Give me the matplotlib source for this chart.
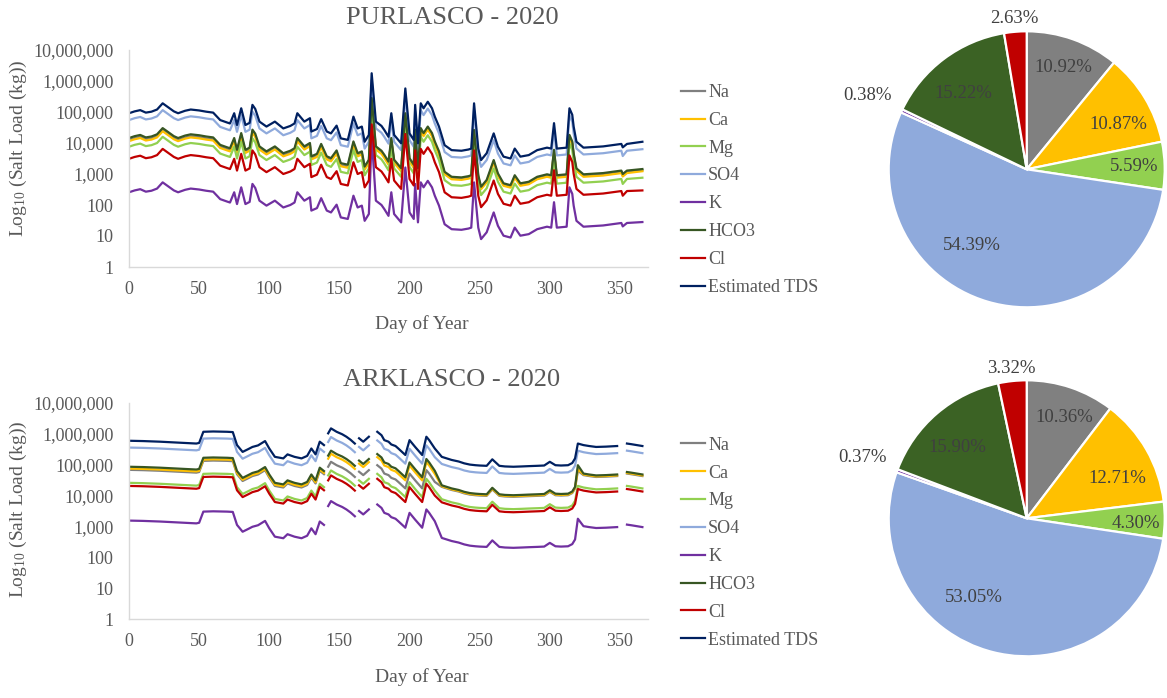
import numpy as np
import matplotlib
matplotlib.use('Agg')
import matplotlib.pyplot as plt
from matplotlib.ticker import FixedLocator, FuncFormatter, NullLocator

plt.rcParams['font.family'] = ['Liberation Serif', 'DejaVu Serif']
plt.rcParams['mathtext.fontset'] = 'custom'
plt.rcParams['mathtext.rm'] = 'Liberation Serif'
plt.rcParams['mathtext.it'] = 'Liberation Serif:italic'

# ---------------- data ----------------
series_names = ['Na', 'Ca', 'Mg', 'SO4', 'K', 'HCO3', 'Cl', 'Estimated TDS']
y_ticks = [1, 10, 100, 1000, 10000, 100000, 1000000, 10000000]
x_ticks = [0, 50, 100, 150, 200, 250, 300, 350]

# PURLASCO 2020 -- daily salt loads, read as log10(kg)
purl_days = [0, 4, 8, 12, 16, 20, 24, 28, 32, 35, 40, 44, 50, 55, 60, 65, 70, 72, 75, 77,
             80, 83, 86, 88, 90, 93, 98, 104, 110, 115, 118, 120, 125, 129, 130, 134, 137, 141, 144, 148,
             151, 156, 160, 163, 166, 168, 171, 173, 176, 180, 182, 185, 187, 189, 194, 197, 200, 203, 204, 206,
             208, 210, 213, 216, 218, 221, 225, 230, 237, 242, 244, 246, 249, 251, 255, 260, 263, 267, 272, 275,
             279, 285, 291, 298, 301, 303, 305, 312, 314, 316, 317, 319, 324, 338, 351, 352, 355, 366]
purl_tds = [4.96, 5.02, 5.06, 4.98, 5.01, 5.08, 5.28, 5.15, 5.02, 4.96, 5.04, 5.08, 5.05, 5.01, 4.98, 4.74, 4.66, 4.63, 4.96, 4.58,
            5.12, 4.58, 4.65, 5.23, 5.10, 4.69, 4.53, 4.69, 4.47, 4.55, 4.63, 4.96, 4.69, 4.80, 4.37, 4.45, 4.77, 4.37, 4.31, 4.56,
            4.15, 4.10, 4.85, 4.47, 4.53, 4.04, 4.26, 6.25, 4.69, 4.55, 4.42, 4.20, 4.96, 4.26, 3.99, 5.76, 4.31, 4.10, 5.23, 3.99,
            5.28, 5.12, 5.33, 5.12, 4.85, 4.53, 3.93, 3.77, 3.75, 3.79, 3.82, 5.28, 3.82, 3.45, 3.67, 4.31, 3.88, 3.56, 3.50, 3.82,
            3.56, 3.61, 3.77, 3.85, 3.82, 4.64, 3.82, 3.85, 5.12, 4.91, 4.53, 4.04, 3.85, 3.89, 3.97, 3.86, 3.97, 4.04]
purl_so4 = [4.74, 4.80, 4.84, 4.76, 4.79, 4.86, 5.06, 4.93, 4.80, 4.74, 4.82, 4.86, 4.83, 4.79, 4.76, 4.52, 4.44, 4.41, 4.74, 4.36,
            4.90, 4.36, 4.43, 5.01, 4.88, 4.47, 4.31, 4.47, 4.25, 4.33, 4.41, 4.74, 4.47, 4.58, 4.15, 4.23, 4.55, 4.15, 4.09, 4.34,
            3.93, 3.88, 4.63, 4.25, 4.31, 3.82, 4.04, 6.03, 4.47, 4.33, 4.20, 3.98, 4.74, 4.04, 3.77, 5.54, 4.09, 3.88, 5.01, 3.77,
            5.06, 4.90, 5.11, 4.90, 4.63, 4.31, 3.71, 3.55, 3.53, 3.57, 3.60, 5.06, 3.60, 3.23, 3.45, 4.09, 3.66, 3.34, 3.28, 3.60,
            3.34, 3.39, 3.55, 3.63, 3.60, 4.42, 3.60, 3.63, 4.90, 4.69, 4.31, 3.82, 3.63, 3.67, 3.75, 3.58, 3.75, 3.80]
purl_hco3 = [4.16, 4.22, 4.26, 4.18, 4.21, 4.28, 4.48, 4.35, 4.22, 4.16, 4.24, 4.28, 4.25, 4.21, 4.18, 3.94, 3.86, 3.83, 4.16, 3.78,
             4.32, 3.78, 3.85, 4.43, 4.30, 3.89, 3.73, 3.89, 3.67, 3.75, 3.83, 4.16, 3.89, 4.00, 3.57, 3.65, 3.97, 3.57, 3.51, 3.76,
             3.35, 3.30, 4.05, 3.67, 3.73, 3.24, 3.46, 5.45, 3.89, 3.75, 3.62, 3.40, 4.16, 3.46, 3.19, 4.96, 3.51, 3.30, 4.43, 3.19,
             4.48, 4.32, 4.53, 4.32, 4.05, 3.73, 3.07, 2.91, 2.89, 2.93, 2.96, 4.42, 2.96, 2.59, 2.81, 3.45, 3.02, 2.70, 2.64, 2.96,
             2.70, 2.75, 2.91, 2.99, 2.96, 3.78, 2.96, 2.99, 4.26, 4.05, 3.67, 3.18, 2.99, 3.03, 3.11, 3.00, 3.11, 3.16]
purl_na = [4.10, 4.16, 4.20, 4.12, 4.15, 4.22, 4.42, 4.29, 4.16, 4.10, 4.18, 4.22, 4.19, 4.15, 4.12, 3.88, 3.80, 3.77, 4.10, 3.72,
           4.26, 3.72, 3.79, 4.37, 4.24, 3.83, 3.67, 3.83, 3.61, 3.69, 3.77, 4.10, 3.83, 3.94, 3.51, 3.59, 3.91, 3.51, 3.45, 3.70,
           3.29, 3.24, 3.99, 3.61, 3.67, 3.18, 3.40, 5.39, 3.83, 3.69, 3.56, 3.34, 4.10, 3.40, 3.13, 4.90, 3.45, 3.24, 4.37, 3.13,
           4.42, 4.26, 4.47, 4.26, 3.99, 3.67, 3.02, 2.86, 2.84, 2.88, 2.91, 4.37, 2.91, 2.54, 2.76, 3.40, 2.97, 2.65, 2.59, 2.91,
           2.65, 2.70, 2.86, 2.94, 2.91, 3.73, 2.91, 2.94, 4.21, 4.00, 3.62, 3.13, 2.94, 2.98, 3.06, 2.95, 3.06, 3.12]
purl_ca = [4.06, 4.12, 4.16, 4.08, 4.11, 4.18, 4.38, 4.25, 4.12, 4.06, 4.14, 4.18, 4.15, 4.11, 4.08, 3.84, 3.76, 3.73, 4.06, 3.68,
           4.22, 3.68, 3.75, 4.33, 4.20, 3.79, 3.63, 3.79, 3.57, 3.65, 3.73, 4.06, 3.79, 3.90, 3.47, 3.55, 3.87, 3.47, 3.41, 3.66,
           3.25, 3.20, 3.95, 3.57, 3.63, 3.14, 3.36, 5.35, 3.79, 3.65, 3.52, 3.30, 4.06, 3.36, 3.09, 4.86, 3.41, 3.20, 4.33, 3.09,
           4.38, 4.22, 4.43, 4.22, 3.95, 3.63, 2.99, 2.83, 2.81, 2.85, 2.88, 4.34, 2.88, 2.51, 2.73, 3.37, 2.94, 2.62, 2.56, 2.88,
           2.62, 2.67, 2.83, 2.91, 2.88, 3.70, 2.88, 2.91, 4.18, 3.97, 3.59, 3.10, 2.91, 2.95, 3.03, 2.92, 3.03, 3.09]
purl_mg = [3.88, 3.94, 3.98, 3.90, 3.93, 4.00, 4.20, 4.07, 3.94, 3.88, 3.96, 4.00, 3.97, 3.93, 3.90, 3.66, 3.58, 3.55, 3.88, 3.50,
           4.04, 3.50, 3.57, 4.15, 4.02, 3.61, 3.45, 3.61, 3.39, 3.47, 3.55, 3.88, 3.61, 3.72, 3.29, 3.37, 3.69, 3.29, 3.23, 3.48,
           3.07, 3.02, 3.77, 3.39, 3.45, 2.96, 3.18, 5.17, 3.61, 3.47, 3.34, 3.12, 3.88, 3.18, 2.91, 4.68, 3.23, 3.02, 4.15, 2.91,
           4.20, 4.04, 4.25, 4.04, 3.77, 3.45, 2.80, 2.64, 2.62, 2.66, 2.69, 4.15, 2.69, 2.32, 2.54, 3.18, 2.75, 2.43, 2.37, 2.69,
           2.43, 2.48, 2.64, 2.72, 2.69, 3.51, 2.69, 2.72, 3.99, 3.78, 3.40, 2.91, 2.72, 2.76, 2.84, 2.68, 2.84, 2.88]
purl_cl = [3.49, 3.55, 3.59, 3.51, 3.54, 3.61, 3.81, 3.68, 3.55, 3.49, 3.57, 3.61, 3.58, 3.54, 3.51, 3.27, 3.19, 3.16, 3.49, 3.11,
           3.65, 3.11, 3.18, 3.76, 3.63, 3.22, 3.06, 3.22, 3.00, 3.08, 3.16, 3.49, 3.22, 3.33, 2.90, 2.98, 3.30, 2.90, 2.84, 3.09,
           2.68, 2.63, 3.38, 3.00, 3.06, 2.57, 2.79, 4.60, 3.22, 3.08, 2.95, 2.73, 3.49, 2.79, 2.52, 4.29, 2.84, 2.63, 3.76, 2.52,
           3.81, 3.65, 3.86, 3.65, 3.38, 3.06, 2.41, 2.25, 2.23, 2.27, 2.30, 3.76, 2.30, 1.93, 2.15, 2.79, 2.36, 2.04, 1.98, 2.30,
           2.04, 2.09, 2.25, 2.33, 2.30, 3.12, 2.30, 2.33, 3.60, 3.39, 3.01, 2.52, 2.33, 2.37, 2.45, 2.30, 2.45, 2.47]
purl_k = [2.41, 2.47, 2.51, 2.43, 2.46, 2.53, 2.73, 2.60, 2.47, 2.41, 2.49, 2.53, 2.50, 2.46, 2.43, 2.19, 2.11, 2.08, 2.41, 2.03,
          2.57, 2.03, 2.10, 2.68, 2.55, 2.14, 1.98, 2.14, 1.92, 2.00, 2.08, 2.41, 2.14, 2.25, 1.82, 1.90, 2.22, 1.82, 1.76, 2.01,
          1.60, 1.55, 2.30, 1.92, 1.98, 1.49, 1.71, 4.20, 2.14, 2.00, 1.87, 1.65, 2.41, 1.71, 1.44, 3.21, 1.76, 1.55, 2.68, 1.44,
          2.73, 2.57, 2.78, 2.57, 2.30, 1.98, 1.38, 1.22, 1.20, 1.24, 1.27, 2.73, 1.27, 0.90, 1.12, 1.76, 1.33, 1.01, 0.95, 1.27,
          1.01, 1.06, 1.22, 1.30, 1.27, 2.09, 1.27, 1.30, 2.57, 2.36, 1.98, 1.49, 1.30, 1.34, 1.42, 1.31, 1.42, 1.45]

# ARKLASCO 2020 -- daily salt loads, read as log10(kg); None = no data
ark_days = [0, 10, 22, 35, 48, 50, 53, 60, 70, 74, 77, 81, 85, 88, 92, 97, 100, 104, 110, 113,
            118, 123, 127, 130, 133, 136, 139, 140, 142, 144, 148, 152, 155, 158, 161, 162, 164, 167, 171, 174,
            177, 180, 182, 185, 187, 190, 192, 197, 200, 204, 209, 212, 214, 218, 223, 230, 235, 239, 243, 247,
            250, 255, 259, 264, 268, 274, 280, 285, 291, 296, 300, 304, 308, 313, 316, 318, 320, 324, 328, 333,
            340, 348, 351, 355, 358, 362, 366]
ark_tds = [5.77, 5.76, 5.74, 5.71, 5.68, 5.70, 6.06, 6.07, 6.06, 6.05, 5.63, 5.41, 5.50, 5.57, 5.62, 5.76, 5.52, 5.25, 5.20, 5.33,
           5.25, 5.20, 5.28, 5.52, 5.33, 5.74, 5.63, None, 6.01, 6.17, 6.06, 5.98, 5.90, 5.80, 5.68, None, 5.85, 5.74, 5.90, None,
           6.06, 5.95, 5.79, 5.74, 5.65, 5.60, 5.52, 5.31, 5.79, 5.57, 5.31, 5.90, 5.79, 5.52, 5.25, 5.15, 5.10, 5.04, 5.00, 4.98,
           4.97, 4.96, 5.17, 4.96, 4.94, 4.93, 4.94, 4.95, 4.96, 4.97, 5.09, 4.98, 4.97, 4.98, 5.05, 5.20, 5.68, 5.63, 5.60, 5.57,
           5.58, 5.60, None, 5.68, 5.66, 5.63, 5.60]
ark_so4 = [5.55, 5.54, 5.52, 5.49, 5.46, 5.48, 5.84, 5.85, 5.84, 5.83, 5.41, 5.19, 5.28, 5.35, 5.40, 5.54, 5.30, 5.03, 4.98, 5.11,
           5.03, 4.98, 5.06, 5.30, 5.11, 5.52, 5.41, None, 5.73, 5.89, 5.78, 5.70, 5.62, 5.52, 5.40, None, 5.57, 5.46, 5.62, None,
           5.78, 5.67, 5.51, 5.46, 5.37, 5.32, 5.24, 5.03, 5.51, 5.29, 5.03, 5.62, 5.51, 5.24, 5.02, 4.92, 4.87, 4.81, 4.77, 4.75,
           4.74, 4.73, 4.94, 4.73, 4.71, 4.70, 4.71, 4.72, 4.73, 4.74, 4.86, 4.75, 4.74, 4.75, 4.82, 4.97, 5.45, 5.40, 5.37, 5.34,
           5.35, 5.37, None, 5.45, 5.43, 5.40, 5.37]
ark_hco3 = [4.93, 4.92, 4.90, 4.87, 4.84, 4.86, 5.22, 5.23, 5.22, 5.21, 4.79, 4.57, 4.66, 4.73, 4.78, 4.92, 4.68, 4.41, 4.36, 4.49,
            4.41, 4.36, 4.44, 4.68, 4.49, 4.90, 4.79, None, 5.29, 5.45, 5.34, 5.26, 5.18, 5.08, 4.96, None, 5.13, 5.02, 5.18, None,
            5.34, 5.23, 5.07, 5.02, 4.93, 4.88, 4.80, 4.59, 5.07, 4.85, 4.59, 5.18, 5.07, 4.80, 4.33, 4.23, 4.18, 4.12, 4.08, 4.06,
            4.05, 4.04, 4.25, 4.04, 4.02, 4.01, 4.02, 4.03, 4.04, 4.05, 4.17, 4.06, 4.05, 4.06, 4.13, 4.28, 4.98, 4.71, 4.68, 4.65,
            4.66, 4.68, None, 4.76, 4.74, 4.71, 4.68]
ark_ca = [4.87, 4.86, 4.84, 4.81, 4.78, 4.80, 5.16, 5.17, 5.16, 5.15, 4.73, 4.51, 4.60, 4.67, 4.72, 4.86, 4.62, 4.35, 4.30, 4.43,
          4.35, 4.30, 4.38, 4.62, 4.43, 4.84, 4.73, None, 5.19, 5.35, 5.24, 5.16, 5.08, 4.98, 4.86, None, 5.03, 4.92, 5.08, None,
          5.24, 5.13, 4.97, 4.92, 4.83, 4.78, 4.70, 4.49, 4.97, 4.75, 4.49, 5.08, 4.97, 4.70, 4.30, 4.20, 4.15, 4.09, 4.05, 4.03,
          4.02, 4.01, 4.22, 4.01, 3.99, 3.98, 3.99, 4.00, 4.01, 4.02, 4.14, 4.03, 4.02, 4.03, 4.10, 4.25, 4.85, 4.68, 4.65, 4.62,
          4.63, 4.65, None, 4.73, 4.71, 4.68, 4.65]
ark_na = [4.83, 4.82, 4.80, 4.77, 4.74, 4.76, 5.12, 5.13, 5.12, 5.11, 4.69, 4.47, 4.56, 4.63, 4.68, 4.82, 4.58, 4.31, 4.26, 4.39,
          4.31, 4.26, 4.34, 4.58, 4.39, 4.80, 4.69, None, 4.93, 5.09, 4.98, 4.90, 4.82, 4.72, 4.60, None, 4.77, 4.66, 4.82, None,
          4.98, 4.87, 4.71, 4.66, 4.57, 4.52, 4.44, 4.23, 4.71, 4.49, 4.23, 4.82, 4.71, 4.44, 4.28, 4.18, 4.13, 4.07, 4.03, 4.01,
          4.00, 3.99, 4.20, 3.99, 3.97, 3.96, 3.97, 3.98, 3.99, 4.00, 4.12, 4.01, 4.00, 4.01, 4.08, 4.23, 4.80, 4.66, 4.63, 4.60,
          4.61, 4.63, None, 4.71, 4.69, 4.66, 4.63]
ark_mg = [4.41, 4.40, 4.38, 4.35, 4.32, 4.34, 4.70, 4.71, 4.70, 4.69, 4.27, 4.05, 4.14, 4.21, 4.26, 4.40, 4.16, 3.89, 3.84, 3.97,
          3.89, 3.84, 3.92, 4.16, 3.97, 4.38, 4.27, None, 4.65, 4.81, 4.70, 4.62, 4.54, 4.44, 4.32, None, 4.49, 4.38, 4.54, None,
          4.70, 4.59, 4.43, 4.38, 4.29, 4.24, 4.16, 3.95, 4.43, 4.21, 3.95, 4.54, 4.43, 4.16, 3.88, 3.78, 3.73, 3.67, 3.63, 3.61,
          3.60, 3.59, 3.80, 3.59, 3.57, 3.56, 3.57, 3.58, 3.59, 3.60, 3.72, 3.61, 3.60, 3.61, 3.68, 3.83, 4.31, 4.26, 4.23, 4.20,
          4.21, 4.23, None, 4.31, 4.29, 4.26, 4.23]
ark_cl = [4.31, 4.30, 4.28, 4.25, 4.22, 4.24, 4.60, 4.61, 4.60, 4.59, 4.17, 3.95, 4.04, 4.11, 4.16, 4.30, 4.06, 3.79, 3.74, 3.87,
          3.79, 3.74, 3.82, 4.06, 3.87, 4.28, 4.17, None, 4.49, 4.65, 4.54, 4.46, 4.38, 4.28, 4.16, None, 4.33, 4.22, 4.38, None,
          4.54, 4.43, 4.27, 4.22, 4.13, 4.08, 4.00, 3.79, 4.27, 4.05, 3.79, 4.38, 4.27, 4.00, 3.78, 3.68, 3.63, 3.57, 3.53, 3.51,
          3.50, 3.49, 3.70, 3.49, 3.47, 3.46, 3.47, 3.48, 3.49, 3.50, 3.62, 3.51, 3.50, 3.51, 3.58, 3.73, 4.21, 4.16, 4.13, 4.10,
          4.11, 4.13, None, 4.21, 4.19, 4.16, 4.13]
ark_k = [3.19, 3.18, 3.16, 3.13, 3.10, 3.12, 3.48, 3.49, 3.48, 3.47, 3.05, 2.83, 2.92, 2.99, 3.04, 3.18, 2.94, 2.67, 2.62, 2.75,
         2.67, 2.62, 2.70, 2.94, 2.75, 3.16, 3.05, None, 3.66, 3.82, 3.71, 3.63, 3.55, 3.45, 3.33, None, 3.50, 3.39, 3.55, None,
         3.71, 3.60, 3.44, 3.39, 3.30, 3.25, 3.17, 2.96, 3.44, 3.22, 2.96, 3.55, 3.44, 3.17, 2.63, 2.53, 2.48, 2.42, 2.38, 2.36,
         2.35, 2.34, 2.55, 2.34, 2.32, 2.31, 2.32, 2.33, 2.34, 2.35, 2.47, 2.36, 2.35, 2.36, 2.43, 2.58, 3.25, 3.01, 2.98, 2.95,
         2.96, 2.98, None, 3.06, 3.04, 3.01, 2.98]

# pie shares (%), order: Na, Ca, Mg, SO4, K, HCO3, Cl
pie_names = ['Na', 'Ca', 'Mg', 'SO4', 'K', 'HCO3', 'Cl']
purl_share = [10.92, 10.87, 5.59, 54.39, 0.38, 15.22, 2.63]
ark_share = [10.36, 12.71, 4.30, 53.05, 0.37, 15.90, 3.32]

# ---------------- styles ----------------
line_colors = ['#7f7f7f', '#ffc000', '#92d050', '#8faadc', '#7030a0', '#375623', '#c00000', '#002060']
pie_colors = ['#808080', '#ffc000', '#92d050', '#8faadc', '#7030a0', '#3b6224', '#c00000']
TXT = '#595959'
W, H = 1167, 698

fig = plt.figure(figsize=(W / 100, H / 100), dpi=100)


def fx(px):
    return px / W


def fy(py):
    return 1 - py / H


def line_panel(top_px, bot_px, days, logs, title, title_y, xlabel_y, ylabel_y):
    ax = fig.add_axes([fx(129), fy(bot_px), fx(648 - 129), (bot_px - top_px) / H])
    d = np.array(days, dtype=float)
    handles = []
    for name, lg, c in zip(series_names, logs, line_colors):
        v = 10 ** np.array(lg, dtype=float)
        h, = ax.plot(d, v, color=c, lw=1.6, solid_joinstyle='round')
        handles.append(h)
    ax.set_yscale('log')
    ax.set_ylim(1, 1e7)
    ax.set_xlim(0, 370)
    ax.yaxis.set_major_locator(FixedLocator(y_ticks))
    ax.yaxis.set_minor_locator(NullLocator())
    ax.yaxis.set_major_formatter(FuncFormatter(lambda v, p: f'{int(round(v)):,}'))
    ax.xaxis.set_major_locator(FixedLocator(x_ticks))
    for s in ['top', 'right']:
        ax.spines[s].set_visible(False)
    for s in ['left', 'bottom']:
        ax.spines[s].set_color('#d9d9d9')
        ax.spines[s].set_linewidth(1.0)
    ax.tick_params(axis='both', length=0, labelsize=13, colors=TXT)
    ax.tick_params(axis='y', pad=11)
    ax.tick_params(axis='x', pad=10)
    fig.text(fx(452), fy(title_y), title, ha='center', va='center', fontsize=19, color=TXT)
    fig.text(fx(422), fy(xlabel_y), 'Day of Year', ha='center', va='center', fontsize=14, color=TXT)
    fig.text(fx(18), fy(ylabel_y), r'Log$_{10}$ (Salt Load (kg))', ha='center', va='center',
             rotation=90, fontsize=14, color=TXT)
    leg = fig.legend(handles, series_names, loc='upper left',
                     bbox_to_anchor=(fx(681), fy(top_px + 34)), frameon=False,
                     fontsize=13, handlelength=1.35, handletextpad=0.15,
                     labelspacing=0.60, borderpad=0, borderaxespad=0)
    for t in leg.get_texts():
        t.set_color(TXT)
    return ax


line_panel(50, 267, purl_days,
           [purl_na, purl_ca, purl_mg, purl_so4, purl_k, purl_hco3, purl_cl, purl_tds],
           'PURLASCO - 2020', 18, 324, 148)
line_panel(402.7, 619.3, ark_days,
           [ark_na, ark_ca, ark_mg, ark_so4, ark_k, ark_hco3, ark_cl, ark_tds],
           'ARKLASCO - 2020', 380, 677, 509)

# label placement (style): distance as fraction of radius, angular nudge in degrees
purl_lab_dist = [0.78, 0.74, 0.78, 0.68, 1.27, 0.72, 1.10]
purl_lab_rot = [0, -5, 0, -19, 0, 3, 0]
ark_lab_dist = [0.78, 0.72, 0.79, 0.69, 1.27, 0.72, 1.09]
ark_lab_rot = [-2, -6, -2, -20, 0, 4, 0]


def pie_panel(cx, cy, r, shares, dists, rots):
    ax = fig.add_axes([fx(cx - r), fy(cy + r), 2 * r / W, 2 * r / H])
    wedges, _ = ax.pie(shares, colors=pie_colors, startangle=90, counterclock=False,
                       wedgeprops=dict(edgecolor='white', linewidth=1.6))
    ax.set_xlim(-1, 1)
    ax.set_ylim(-1, 1)
    ax.set_aspect('auto')
    for w, val, dd, rr in zip(wedges, shares, dists, rots):
        ang = np.deg2rad((w.theta1 + w.theta2) / 2 + rr)
        ax.text(dd * np.cos(ang), dd * np.sin(ang), f'{val:.2f}%', ha='center', va='center',
                fontsize=13.5, color='#404040')
    ax.axis('off')


pie_panel(1026.7, 169.3, 138, purl_share, purl_lab_dist, purl_lab_rot)
pie_panel(1026.7, 518.3, 138, ark_share, ark_lab_dist, ark_lab_rot)

fig.savefig('out.png', dpi=100)
